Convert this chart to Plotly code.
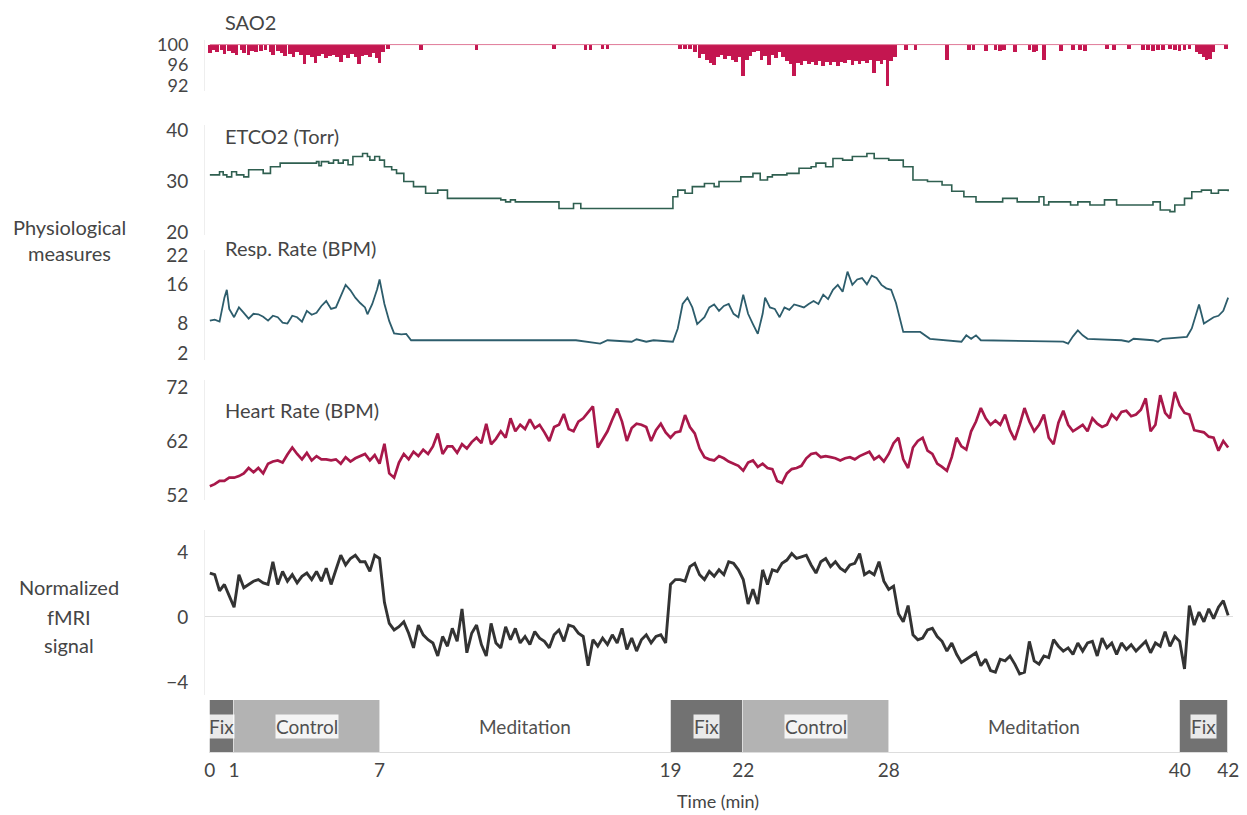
import plotly.graph_objects as go

FONT = "Lato, 'Open Sans', sans-serif"
TEXT = "#454545"

# ---------------- data ----------------
time_ticks = [0, 1, 7, 19, 22, 28, 40, 42]

phase_start = [0, 1, 7, 19, 22, 28, 40]
phase_end = [1, 7, 19, 22, 28, 40, 42]
phase_label = ["Fix", "Control", "Meditation", "Fix", "Control", "Meditation", "Fix"]
phase_colors = {"Fix": "#727272", "Control": "#b3b3b3", "Meditation": "#ffffff"}

# SAO2: baseline 100 %, with downward dips (time in min, value in %)
SAO2_BASELINE = 100
sao2_dip_time = [0.0, 0.15, 0.3, 0.5, 0.6, 0.8, 0.95, 1.1, 1.3, 1.4, 1.6, 1.75, 1.9, 2.1, 2.3,
                 2.5, 2.6, 2.8, 2.95, 3.1, 3.3, 3.45, 3.6, 3.75, 3.9, 4.05, 4.2, 4.35, 4.5,
                 4.65, 4.8, 4.95, 5.1, 5.25, 5.4, 5.55, 5.7, 5.85, 6.0, 6.15, 6.3, 6.45, 6.6,
                 6.75, 6.9, 7.0, 7.15, 7.35,
                 8.7, 11.0, 14.2, 15.5, 15.7, 16.2, 16.4, 19.4, 19.6, 19.8,
                 20.0, 20.2, 20.35, 20.5, 20.65, 20.8, 20.95, 21.1, 21.25, 21.4, 21.55, 21.7,
                 21.85, 22.0, 22.15, 22.3, 22.45, 22.6, 22.75, 22.9, 23.05, 23.2, 23.35, 23.5,
                 23.65, 23.8, 23.95, 24.1, 24.25, 24.4, 24.55, 24.7, 24.85, 25.0, 25.15, 25.3,
                 25.45, 25.6, 25.75, 25.9, 26.05, 26.2, 26.35, 26.5, 26.65, 26.8, 26.95, 27.1,
                 27.25, 27.4, 27.55, 27.7, 27.85, 27.95, 28.1, 28.25,
                 28.7, 29.1, 30.4, 31.3, 31.5, 32.0, 32.4, 32.6, 32.75, 33.2, 33.8, 34.0, 34.1,
                 34.4, 35.1, 35.6, 35.9, 36.1, 37.0, 37.3, 37.9, 38.5, 38.7, 38.9, 39.1, 39.3,
                 39.6, 39.8, 40.0, 40.2, 40.4, 40.7, 40.85, 41.0, 41.1, 41.25, 41.4, 41.9]
sao2_dip_value = [98.4, 99.0, 98.6, 98.9, 98.2, 98.8, 98.4, 98.0, 98.9, 98.3, 98.0, 98.7, 98.5,
                  98.8, 98.9, 98.6, 98.0, 98.7, 98.4, 97.8, 98.2, 97.6, 98.5, 97.9, 96.1, 98.0,
                  97.5, 96.3, 97.8, 98.2, 97.4, 97.8, 98.0, 97.6, 96.5, 97.9, 97.4, 98.2, 97.6,
                  96.2, 97.8, 98.0, 97.5, 98.4, 97.3, 96.4, 98.6, 99.2,
                  99.0, 99.0, 99.1, 99.0, 99.0, 99.1, 99.1, 99.2, 99.1, 99.2,
                  98.5, 97.4, 98.2, 97.0, 96.4, 96.0, 97.5, 98.0, 97.2, 97.8, 97.0, 96.6,
                  97.6, 93.8, 97.0, 97.8, 98.5, 98.7, 97.0, 97.8, 96.0, 98.0, 97.4, 98.5,
                  97.6, 96.8, 96.2, 93.8, 96.4, 96.0, 96.8, 96.2, 96.5, 96.0, 96.7, 95.8,
                  96.5, 96.0, 96.6, 95.9, 96.6, 96.3, 97.0, 96.0, 96.8, 96.2, 96.7, 96.3,
                  97.0, 94.5, 96.8, 96.2, 97.0, 91.8, 96.8, 97.5,
                  99.0, 98.9, 97.0, 99.0, 99.0, 98.8, 98.9, 98.7, 98.9, 98.5, 99.0, 98.5, 98.7,
                  97.0, 98.8, 99.0, 98.9, 98.8, 99.1, 99.0, 99.1, 99.0, 98.9, 98.8, 99.0, 99.0,
                  99.1, 98.9, 98.8, 99.0, 99.1, 98.6, 98.2, 97.5, 96.9, 97.2, 98.5, 99.1]

# ETCO2 (Torr), step changes
etco2_time = [0.0, 0.4, 0.55, 0.7, 0.9, 1.1, 1.4, 1.6, 2.2, 2.5, 2.9, 4.4, 4.5, 4.6, 4.9, 5.1,
              5.3, 5.5, 5.7, 5.9, 6.3, 6.5, 6.6, 6.8, 7.0, 7.2, 7.5, 7.7, 8.0, 8.4, 8.9, 9.4,
              9.8, 12.0, 12.2, 12.4, 12.6, 14.4, 15.0, 15.3, 19.1, 19.3, 19.6, 19.9, 20.4,
              20.8, 21.0, 21.9, 22.4, 22.7, 23.0, 23.2, 23.8, 24.3, 24.8, 25.0, 25.4, 25.7,
              26.1, 26.5, 27.1, 27.4, 28.0, 28.6, 29.0, 29.6, 30.2, 30.6, 31.1, 31.6, 32.7,
              33.3, 34.2, 34.4, 34.6, 35.5, 35.8, 36.3, 36.9, 37.4, 38.9, 39.2, 39.6, 39.8,
              40.2, 40.5, 40.9, 41.3, 41.6, 42.0]
etco2_value = [31.2, 31.8, 31.2, 30.8, 31.8, 31.2, 30.8, 32.2, 31.5, 32.8, 33.5, 33.8, 33.0,
               33.8, 33.5, 34.1, 33.5, 34.1, 33.2, 34.8, 35.4, 34.8, 34.1, 34.8, 34.1, 32.8,
               32.2, 31.5, 29.9, 28.9, 27.6, 28.2, 26.6, 26.3, 25.9, 26.3, 25.9, 24.6, 25.6,
               24.6, 26.9, 28.2, 27.6, 28.9, 29.5, 28.9, 29.9, 30.8, 31.5, 30.2, 30.8, 31.2,
               31.5, 32.5, 32.8, 33.5, 32.8, 34.4, 34.1, 34.8, 35.4, 34.4, 34.1, 32.8, 30.2,
               29.9, 29.2, 28.0, 26.9, 25.9, 26.6, 25.9, 26.9, 25.3, 25.9, 25.3, 25.9, 25.3,
               26.3, 25.3, 25.9, 24.3, 24.0, 25.3, 26.6, 27.9, 28.2, 27.6, 28.2, 28.0]

# Respiration rate (breaths per min)
resp_time = [0.0, 0.2, 0.4, 0.6, 0.7, 0.8, 1.0, 1.2, 1.4, 1.6, 1.8, 2.0, 2.2, 2.4, 2.6, 2.8,
             3.0, 3.2, 3.4, 3.6, 3.8, 4.0, 4.2, 4.4, 4.6, 4.8, 5.0, 5.2, 5.4, 5.6, 5.8, 6.0,
             6.2, 6.4, 6.5, 6.7, 6.9, 7.0, 7.2, 7.4, 7.6, 7.9, 8.1, 8.3, 14.8, 15.1, 16.1,
             16.4, 17.4, 17.6, 18.0, 18.3, 19.1, 19.3, 19.5, 19.7, 19.9, 20.1, 20.4, 20.6,
             20.8, 21.0, 21.2, 21.4, 21.6, 21.8, 22.0, 22.2, 22.4, 22.6, 22.8, 22.9, 23.1,
             23.3, 23.5, 23.7, 23.9, 24.1, 24.3, 24.5, 24.7, 24.9, 25.1, 25.3, 25.5, 25.7,
             25.9, 26.1, 26.3, 26.5, 26.7, 26.9, 27.1, 27.3, 27.5, 27.7, 27.9, 28.1, 28.3,
             28.5, 28.6, 29.3, 29.5, 29.7, 31.0, 31.2, 31.4, 31.6, 31.8, 35.2, 35.4, 35.6,
             35.8, 36.0, 36.2, 37.6, 37.9, 38.1, 38.9, 39.1, 39.3, 40.3, 40.5, 40.7, 40.8,
             41.0, 41.2, 41.4, 41.6, 41.8, 42.0]
resp_value = [8.6, 8.8, 8.4, 13.3, 14.9, 11.0, 9.3, 11.3, 10.2, 9.0, 10.0, 9.9, 9.4, 8.6, 9.6,
              9.3, 8.2, 8.0, 9.6, 9.3, 8.4, 10.6, 9.8, 10.2, 11.6, 12.6, 11.0, 11.3, 13.6,
              15.9, 14.8, 13.3, 12.2, 11.3, 9.9, 12.0, 15.0, 17.0, 12.0, 8.5, 6.0, 5.8, 5.9,
              4.6, 4.6, 4.6, 3.9, 4.6, 4.3, 4.8, 4.3, 4.6, 4.3, 7.0, 12.0, 13.3, 11.3, 7.9,
              9.3, 11.3, 11.9, 10.6, 11.6, 12.0, 10.0, 9.3, 13.9, 10.0, 7.9, 5.9, 10.0, 13.3,
              11.3, 11.0, 9.3, 11.3, 10.8, 11.9, 11.6, 11.3, 12.0, 12.6, 12.0, 13.9, 13.0,
              14.9, 15.9, 14.5, 18.6, 15.9, 17.0, 17.3, 16.0, 17.8, 17.3, 15.9, 15.2, 14.9,
              12.2, 8.6, 6.3, 6.3, 5.6, 4.9, 4.3, 5.6, 4.9, 5.6, 4.6, 4.3, 3.9, 5.4, 6.6,
              5.6, 4.9, 4.6, 4.3, 4.9, 4.6, 4.3, 4.9, 5.3, 7.0, 10.0, 11.9, 8.0, 8.6, 9.3,
              9.6, 10.6, 13.3]

# Heart rate (beats per min), sampled every 0.2 min from t = 0
HR_T0, HR_DT = 0.0, 0.2
heart_value = [53.6, 54.0, 54.6, 54.6, 55.2, 55.2, 55.5, 56.0, 57.0, 56.2,
               57.0, 56.0, 57.8, 58.2, 58.4, 58.0, 59.5, 60.8, 59.6, 58.6,
               59.8, 58.4, 59.2, 58.6, 58.6, 58.4, 58.6, 57.8, 59.0, 58.2,
               58.8, 59.2, 59.6, 58.4, 59.4, 57.8, 61.5, 56.0, 55.2, 58.0,
               59.6, 58.6, 60.0, 59.2, 60.4, 59.6, 61.0, 63.4, 59.6, 61.0,
               61.0, 59.8, 61.4, 60.6, 61.8, 62.6, 61.6, 65.2, 61.4, 62.4,
               63.8, 62.6, 66.2, 63.8, 65.0, 64.2, 66.0, 64.4, 65.0, 63.6,
               62.0, 64.6, 65.0, 67.0, 64.2, 63.8, 65.6, 66.2, 67.4, 68.4,
               60.8, 62.4, 63.8, 66.0, 68.0, 65.6, 62.0, 64.4, 65.2, 65.0,
               64.6, 62.0, 64.0, 65.2, 63.6, 62.6, 63.6, 63.8, 66.8, 64.6,
               63.4, 60.6, 59.0, 58.6, 58.4, 59.2, 58.8, 58.2, 57.8, 57.4,
               56.5, 58.0, 58.4, 57.2, 57.8, 57.0, 56.8, 54.6, 54.2, 56.0,
               56.8, 57.0, 57.4, 58.8, 59.6, 59.8, 59.0, 59.2, 59.0, 58.8,
               58.4, 58.8, 59.0, 58.6, 59.2, 59.6, 60.0, 58.6, 59.2, 58.2,
               59.6, 61.6, 62.6, 58.6, 57.0, 60.8, 62.0, 62.6, 60.2, 59.6,
               57.8, 57.2, 56.5, 59.0, 62.6, 61.0, 60.4, 63.8, 65.6, 68.1,
               66.2, 65.0, 65.8, 65.0, 66.9, 64.0, 62.2, 65.0, 68.1, 65.6,
               63.8, 65.0, 66.9, 62.6, 61.4, 65.4, 67.6, 65.0, 63.8, 64.4,
               65.0, 63.8, 66.2, 65.2, 64.6, 65.0, 66.9, 66.0, 67.4, 67.6,
               66.6, 66.9, 67.8, 69.9, 63.8, 65.0, 70.5, 67.2, 66.2, 71.1,
               68.6, 67.2, 66.9, 64.0, 63.8, 63.6, 62.8, 62.6, 60.2, 62.0,
               60.8]

# Normalized fMRI signal, sampled every 0.2 min from t = 0
FMRI_T0, FMRI_DT = 0.0, 0.2
fmri_value = [2.7, 2.6, 1.6, 2.0, 1.3, 0.6, 2.6, 1.8, 2.0, 2.2,
              2.3, 2.1, 2.0, 3.4, 2.0, 2.8, 2.2, 2.6, 2.1, 2.5,
              2.7, 2.3, 2.8, 2.2, 3.0, 2.0, 2.9, 3.8, 3.2, 3.6,
              3.8, 3.4, 3.4, 2.8, 3.8, 3.6, 0.9, -0.4, -0.8, -0.6,
              -0.3, -1.0, -1.9, -0.5, -1.1, -1.4, -1.6, -2.4, -1.2, -1.8,
              -0.7, -1.5, 0.5, -2.2, -1.0, -0.5, -1.7, -2.4, -0.4, -1.6,
              -1.9, -0.6, -1.4, -0.7, -1.6, -1.2, -1.7, -0.9, -1.3, -1.5,
              -1.9, -1.1, -0.8, -1.5, -0.5, -0.6, -1.0, -1.2, -3.0, -1.4,
              -1.8, -1.3, -1.7, -1.1, -1.6, -0.7, -2.0, -1.3, -2.1, -1.4,
              -1.1, -1.6, -1.2, -1.1, -1.6, 2.0, 2.3, 2.3, 2.2, 3.1,
              3.3, 2.6, 2.3, 2.8, 2.5, 2.9, 2.6, 3.4, 3.3, 2.9,
              2.3, 0.8, 1.7, 0.8, 2.9, 2.0, 2.9, 2.8, 3.3, 3.5,
              3.9, 3.6, 3.7, 3.8, 3.2, 2.7, 3.4, 3.6, 3.1, 3.4,
              3.0, 2.8, 3.2, 3.3, 3.9, 2.6, 2.8, 2.6, 3.4, 2.2,
              1.7, 1.9, 0.2, -0.3, 0.7, -1.1, -1.4, -1.3, -0.8, -0.7,
              -1.2, -1.5, -2.1, -1.6, -2.3, -2.8, -2.6, -2.4, -2.2, -3.0,
              -2.6, -3.3, -3.4, -2.6, -2.7, -2.4, -2.9, -3.5, -3.4, -1.5,
              -2.7, -2.9, -2.4, -2.5, -1.4, -1.8, -2.1, -1.9, -2.3, -1.6,
              -2.1, -1.6, -1.5, -2.4, -1.3, -1.9, -1.6, -2.3, -1.6, -2.0,
              -1.7, -2.1, -1.8, -1.5, -2.2, -1.6, -1.8, -0.9, -1.8, -1.2,
              -1.5, -3.2, 0.7, -0.5, 0.3, -0.3, 0.5, -0.1, 0.6, 1.0,
              0.1]

heart_time = [round(HR_T0 + i * HR_DT, 2) for i in range(len(heart_value))]
fmri_time = [round(FMRI_T0 + i * FMRI_DT, 2) for i in range(len(fmri_value))]

# ---------------- figure ----------------
PAGE_OFFSET = 8            # the page body margin places the figure at (8, 8)
W, H = 1247 - PAGE_OFFSET, 815 - PAGE_OFFSET
CRIMSON = "#c41650"
HEART = "#a8184a"
ETCO2_C = "#2f5f50"
RESP_C = "#2d5d6c"
FMRI_C = "#333333"

def px_x(p):
    return (p - PAGE_OFFSET) / W

def dom(top_px, bottom_px):
    return [1 - (bottom_px - PAGE_OFFSET) / H, 1 - (top_px - PAGE_OFFSET) / H]

fig = go.Figure()

# SAO2
fig.add_trace(go.Scatter(x=[phase_start[0], phase_end[-1]], y=[SAO2_BASELINE, SAO2_BASELINE],
                         mode="lines", line=dict(color="#e07a98", width=1),
                         yaxis="y", hoverinfo="skip", showlegend=False))
fig.add_trace(go.Bar(x=sao2_dip_time, y=[v - SAO2_BASELINE for v in sao2_dip_value],
                     base=SAO2_BASELINE, width=0.15, marker=dict(color=CRIMSON, line=dict(width=0)),
                     yaxis="y", showlegend=False))
# ETCO2
fig.add_trace(go.Scatter(x=etco2_time, y=etco2_value, mode="lines", line_shape="hv",
                         line=dict(color=ETCO2_C, width=1.6), yaxis="y2", showlegend=False))
# Resp
fig.add_trace(go.Scatter(x=resp_time, y=resp_value, mode="lines",
                         line=dict(color=RESP_C, width=1.8), yaxis="y3", showlegend=False))
# Heart
fig.add_trace(go.Scatter(x=heart_time, y=heart_value, mode="lines",
                         line=dict(color=HEART, width=2.7), yaxis="y4", showlegend=False))
# fMRI
fig.add_trace(go.Scatter(x=fmri_time, y=fmri_value, mode="lines",
                         line=dict(color=FMRI_C, width=2.9), yaxis="y5", showlegend=False))
# Phase blocks
fig.add_trace(go.Bar(x=[e - s for s, e in zip(phase_start, phase_end)], base=phase_start,
                     y=["phase"] * len(phase_start), orientation="h", width=1,
                     marker=dict(color=[phase_colors[p] for p in phase_label],
                                 line=dict(color="#dddddd", width=1)),
                     yaxis="y6", showlegend=False, hoverinfo="skip"))

yax = dict(showgrid=False, zeroline=False, ticks="", showline=True, linecolor="#eeeeee",
           tickfont=dict(family=FONT, size=19, color=TEXT), ticklabelstandoff=12,
           anchor="x", fixedrange=True, automargin=False)

fig.update_layout(
    template="none",
    width=W, height=H, autosize=False,
    margin=dict(l=0, r=0, t=0, b=0, pad=0),
    paper_bgcolor="white", plot_bgcolor="white",
    barmode="overlay", bargap=0,
    font=dict(family=FONT, color=TEXT),
    xaxis=dict(domain=[px_x(205), px_x(1233)], range=[-0.2, 42.2], anchor="y6",
               tickvals=time_ticks, ticktext=[str(t) for t in time_ticks],
               showgrid=False, zeroline=False, showline=False, ticks="", automargin=False,
               tickfont=dict(family=FONT, size=19, color=TEXT), ticklabelstandoff=4),
    yaxis=dict(yax, domain=dom(40, 91), range=[90.9, 100.9], tickvals=[92, 96, 100],
               tickfont=dict(family=FONT, size=18, color=TEXT)),
    yaxis2=dict(yax, domain=dom(125, 235), range=[19.41, 40.98], tickvals=[20, 30, 40]),
    yaxis3=dict(yax, domain=dom(250, 360), range=[0.57, 23.02], tickvals=[2, 8, 16, 22]),
    yaxis4=dict(yax, domain=dom(380, 500), range=[51.07, 73.3], tickvals=[52, 62, 72]),
    yaxis5=dict(yax, domain=dom(530, 695), range=[-4.8, 5.35], tickvals=[-4, 0, 4],
                zeroline=True, zerolinecolor="#dedede", zerolinewidth=1),
    yaxis6=dict(domain=dom(700, 753), range=[-0.5, 0.5], visible=False, anchor="x",
                fixedrange=True, automargin=False),
)

ann = []
def paper_text(text, xpx, ypx, anchor="left", size=20):
    ann.append(dict(text=text, x=px_x(xpx), y=1 - (ypx - PAGE_OFFSET) / H,
                    xref="paper", yref="paper",
                    xanchor=anchor, yanchor="middle", showarrow=False,
                    font=dict(family=FONT, size=size, color=TEXT)))

paper_text("SAO2", 223, 22)
paper_text("ETCO2 (Torr)", 223, 136)
paper_text("Resp. Rate (BPM)", 223, 248)
paper_text("Heart Rate (BPM)", 223, 410)
paper_text("Physiological", 69, 227, "center")
paper_text("measures", 69, 253, "center")
paper_text("Normalized", 69, 587, "center")
paper_text("fMRI", 69, 617, "center")
paper_text("signal", 69, 645, "center")
paper_text("Time (min)", 718, 801, "center", size=18)

for s, e, lab in zip(phase_start, phase_end, phase_label):
    ann.append(dict(text=lab, x=(s + e) / 2, y="phase", xref="x", yref="y6",
                    xanchor="center", yanchor="middle", showarrow=False,
                    bgcolor=None if lab == "Meditation" else "rgba(255,255,255,0.85)",
                    borderpad=0,
                    font=dict(family=FONT, size=19, color="#505050")))

fig.update_layout(annotations=ann)
fig.write_html("out.html")
